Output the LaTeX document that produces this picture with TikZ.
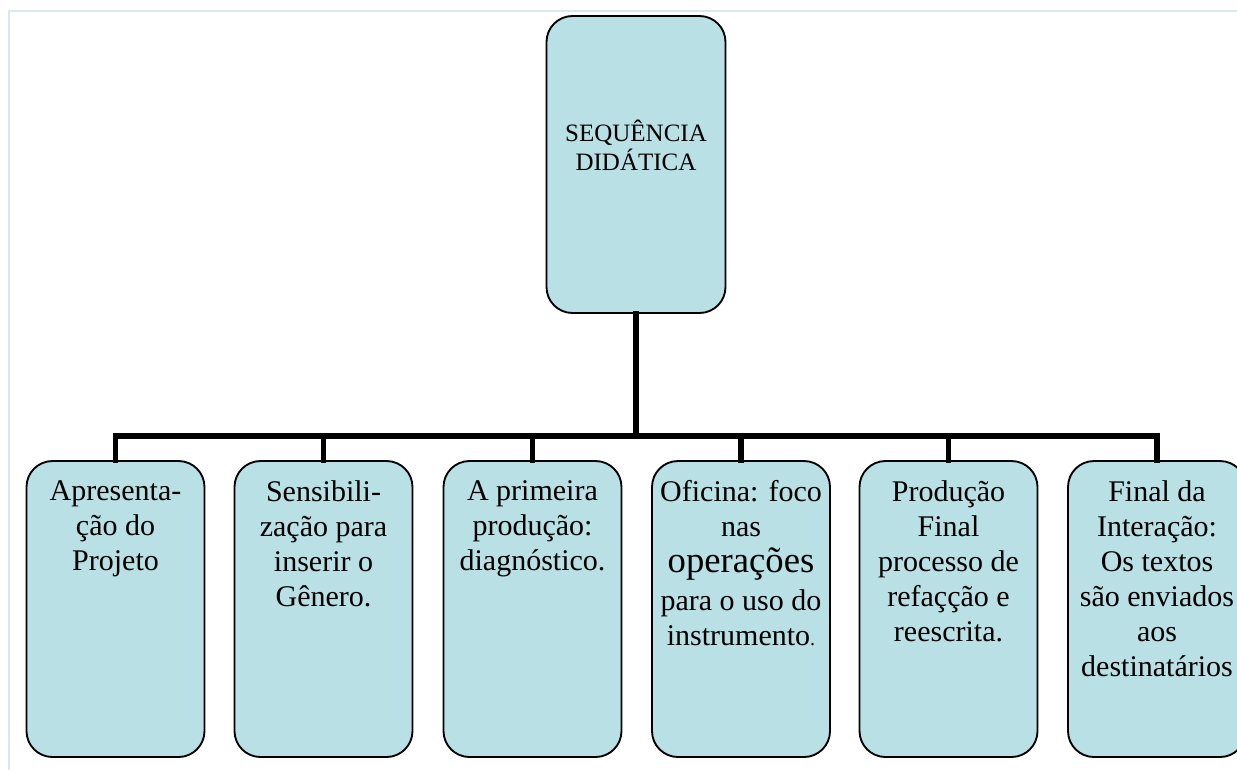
\documentclass[tikz,border=0pt]{standalone}
\usepackage{fontspec}
\setmainfont{Liberation Serif}
\definecolor{boxfill}{RGB}{185,224,228}
\definecolor{framecol}{RGB}{220,230,242}
\tikzset{
  box/.style={draw=black, line width=1.4pt, fill=boxfill, rounded corners=19.5pt,
    minimum width=133.5pt, minimum height=222pt, inner sep=0pt},
  topbox/.style={box, minimum width=134.25pt, minimum height=222.75pt},
  btext/.style={align=center, anchor=north, inner sep=0pt,
    font=\fontsize{22.5}{26.25}\selectfont},
  ttext/.style={align=center, anchor=north, inner sep=0pt,
    font=\fontsize{18.75}{21.75}\selectfont},
  conn/.style={draw=black, line width=4.2pt, line join=miter, line cap=rect},
  framestyle/.style={draw=framecol, line width=1.5pt}
}
\begin{document}
\begin{tikzpicture}[x=0.75pt,y=-0.75pt]
\useasboundingbox (0,0) rectangle (1237,769);
\clip (0,0) rectangle (1237,769);
\fill[white] (0,0) rectangle (1237,769);
\draw[framestyle] (9,780) -- (9,11) -- (1250,11);

% top box
\node[topbox] (top) at (636,164.5) {};
\node[ttext] (toptxt) at (636,119.5) {SEQUÊNCIA\\DIDÁTICA};

% bottom boxes
\node[box] (b1) at (115.5,609) {};
\node[box] (b2) at (323.5,609) {};
\node[box] (b3) at (532.5,609) {};
\node[box] (b4) at (741,609) {};
\node[box] (b5) at (948.5,609) {};
\node[box] (b6) at (1157,609) {};

\node[btext] (t1) at (115.5,480.5) {Apresenta-\\ção do\\Projeto};
\node[btext] (t2) at (323.5,480.5) {Sensibili-\\zação para\\inserir o\\Gênero.};
\node[btext] (t3) at (532.5,480.5) {A primeira\\produção:\\diagnóstico.};
\node[btext] (t4) at (741,480.5) {Oficina: foco\\nas\\[0.5pt]{\fontsize{27.5}{31}\selectfont operações}\\[2pt]para o uso do\\instrumento{\fontsize{15}{18}\selectfont .}};
\node[btext] (t5) at (948.5,480.5) {Produção\\Final\\processo de\\refaçção e\\reescrita.};
\node[btext] (t6) at (1157,480.5) {Final da\\Interação:\\Os textos\\são enviados\\aos\\destinatários};

% connectors
\coordinate (bar) at (636,436);
\draw[conn] (top.south) -- (bar);
\draw[conn] (b1.north) |- (b6.north |- bar) -- (b6.north);
\draw[conn] (b2.north) -- (b2.north |- bar);
\draw[conn] (b3.north) -- (b3.north |- bar);
\draw[conn] (b4.north) -- (b4.north |- bar);
\draw[conn] (b5.north) -- (b5.north |- bar);
\end{tikzpicture}
\end{document}
